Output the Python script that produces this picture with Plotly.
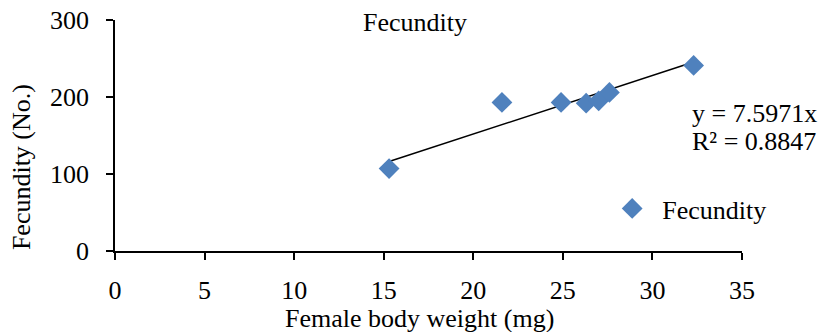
import plotly.graph_objects as go

# Data
body_weight = [15.3, 21.6, 24.9, 26.3, 27.0, 27.6, 32.3]
fecundity = [107, 193, 193, 192, 195, 206, 241]
slope = 7.5971
r_squared = 0.8847
x_ticks = [0, 5, 10, 15, 20, 25, 30, 35]
y_ticks = [0, 100, 200, 300]

FONT = "Liberation Serif, Times New Roman, serif"
BLUE = "#4F81BD"
FS = 26

x_line = [min(body_weight), max(body_weight)]
y_line = [slope * v for v in x_line]

fig = go.Figure()
fig.add_trace(go.Scatter(
    x=x_line, y=y_line, mode="lines",
    line=dict(color="black", width=1.5),
    showlegend=False, hoverinfo="skip",
))
fig.add_trace(go.Scatter(
    x=body_weight, y=fecundity, mode="markers", name="Fecundity",
    marker=dict(symbol="diamond", size=16, color=BLUE, line=dict(width=0)),
))

fig.update_layout(
    width=822, height=332,
    margin=dict(l=115, r=80, t=20, b=81),
    paper_bgcolor="white", plot_bgcolor="white",
    font=dict(family=FONT, size=FS, color="black"),
    showlegend=True,
    legend=dict(x=0.777, y=0.184, xanchor="left", yanchor="middle", itemwidth=50,
                font=dict(size=FS, family=FONT), bgcolor="rgba(0,0,0,0)"),
    xaxis=dict(range=[0, 35], tickvals=x_ticks, showgrid=False, zeroline=False,
               showline=True, linecolor="black", linewidth=1.5, automargin=False,
               ticks="outside", ticklen=7, tickwidth=1.5, tickcolor="black",
               ticklabelstandoff=8, ticklabeloverflow="allow", tickfont=dict(size=FS)),
    yaxis=dict(range=[0, 300], tickvals=y_ticks, showgrid=False, zeroline=False,
               showline=True, linecolor="black", linewidth=1.5, automargin=False,
               ticks="outside", ticklen=7, tickwidth=1.5, tickcolor="black",
               ticklabelstandoff=12, ticklabeloverflow="allow", tickfont=dict(size=FS)),
    annotations=[
        dict(text="Fecundity", x=0.478, y=0.99, xref="paper", yref="paper",
             showarrow=False, font=dict(size=FS), xanchor="center", yanchor="middle"),
        dict(text="Female body weight (mg)", x=0.486, y=-0.292, xref="paper", yref="paper",
             showarrow=False, font=dict(size=FS), xanchor="center", yanchor="middle"),
        dict(text="Fecundity (No.)", x=-0.148, y=0.364, xref="paper", yref="paper",
             showarrow=False, font=dict(size=FS), textangle=-90,
             xanchor="center", yanchor="middle"),
        dict(text=f"y = {slope}x", x=0.917, y=0.597, xref="paper", yref="paper",
             showarrow=False, font=dict(size=FS), xanchor="left", yanchor="middle"),
        dict(text=f"R² = {r_squared}", x=0.917, y=0.472, xref="paper", yref="paper",
             showarrow=False, font=dict(size=FS), xanchor="left", yanchor="middle"),
    ],
)

# remove the browser's default 8px body margin so the figure fills the window exactly
fig.write_html(
    "out.html",
    config={"displayModeBar": False},
    post_script="document.body.style.margin='0';document.body.style.overflow='hidden';",
)
